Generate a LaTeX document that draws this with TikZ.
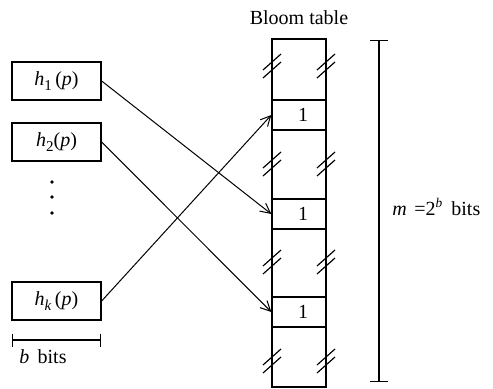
\documentclass[tikz,border=0pt]{standalone}
\usepackage{fontspec}
\setmainfont{Liberation Serif}
\usetikzlibrary{arrows.meta, calc, positioning}
\newcommand{\hfn}[2]{\textit{h}\raisebox{-3.5pt}{\fontsize{9}{9}\selectfont #1}#2(\textit{p})}

\begin{document}
\begin{tikzpicture}[x=0.6pt, y=-0.6pt,
  font=\fontsize{12}{14}\selectfont,
  hbox/.style={draw, line width=0.8pt, minimum width=53.4pt,
    minimum height=22.8pt, inner sep=0pt},
  cell/.style={draw, line width=0.8pt, minimum width=32.4pt,
    minimum height=18pt, inner sep=0pt},
  arr/.style={-{Straight Barb[length=6pt, width=6pt]}, line width=0.6pt},
  brk/.style={line width=0.7pt},
  dim/.style={{Bar[width=#1]}-{Bar[width=#1]}, line width=0.8pt},
]
\useasboundingbox (0,0) rectangle (493,389);

%% Hash functions — left
\node[hbox] (H1) at (56.5, 81)  {\hfn{1}{\,}};
\node[hbox] (H2) at (56.5,142)  {\hfn{2}{}};
\node[hbox] (HK) at (56.5,301)  {\hfn{\textit{k}}{\,}};
\foreach \yy in {182,197,213}{
  \fill (52,\yy) circle (1.1pt);
}

%% Bloom table
\node[draw, line width=0.8pt, minimum width=32.4pt, minimum height=208.8pt,
  inner sep=0pt] (T) at (299,213) {};
\node[above=4.5pt of T] (Ttl) {Bloom table};
\node[cell] (C1) at (299,115) {\hspace*{5pt}1};
\node[cell] (C2) at (299,214) {\hspace*{5pt}1};
\node[cell] (C3) at (299,312) {\hspace*{5pt}1};

%% Break marks
\foreach \yy in {66,164,262,361}{
  \foreach \xx in {272,326}{
    \draw[brk] (\xx-9,\yy+4) -- ++(18,-16);
    \draw[brk] (\xx-9,\yy+12) -- ++(18,-16);
  }
}

%% Arrows
\draw[arr] (H1.east) -- (C2.west);
\draw[arr] (H2.east) -- (C3.west);
\draw[arr] (HK.east) -- (C1.west);

%% Dimensions
\coordinate (B0) at (12,340);
\coordinate (B1) at (101,340);
\draw[dim=7.8pt] (B0) -- (B1);
\node[anchor=north west, inner sep=0pt] (Bl) at (19,349)
  {\textit{b}\hspace{5pt}bits};

\coordinate (M0) at (379,40);
\coordinate (M1) at (379,382);
\draw[dim=10.8pt] (M0) -- (M1);
\node[anchor=west, inner sep=0pt] (Ml) at (392,207)
  {\textit{m}\hspace{1.5pt} =2\textsuperscript{\textit{b}}\hspace{2pt} bits};
\end{tikzpicture}
\end{document}
